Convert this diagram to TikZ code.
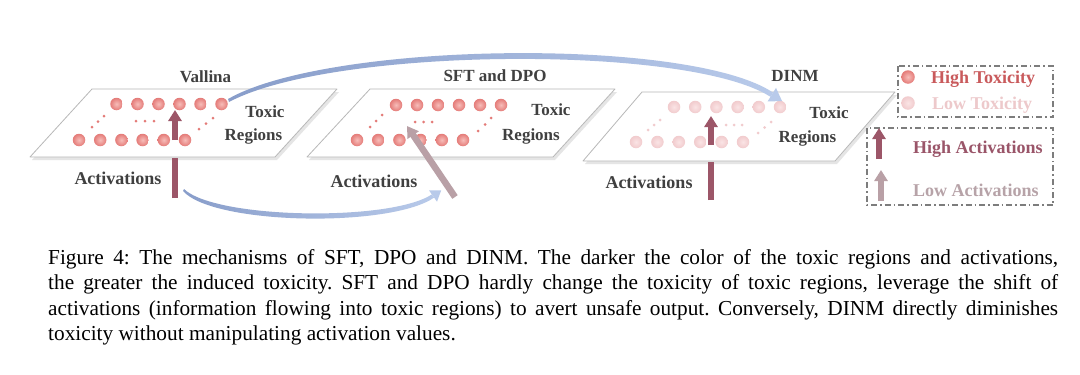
\documentclass[tikz,border=0pt]{standalone}
\usepackage{fontspec}
\setmainfont{Liberation Serif}
\usetikzlibrary{arrows.meta}
\definecolor{lab}{HTML}{404040}
\definecolor{dotin}{HTML}{F7BDB9}
\definecolor{dotout}{HTML}{E47B78}
\definecolor{ltin}{HTML}{FAE4E5}
\definecolor{ltout}{HTML}{F1CBCD}
\definecolor{hiact}{HTML}{9C5668}
\definecolor{loact}{HTML}{B9A0A6}
\definecolor{flowA}{HTML}{889DCA}
\definecolor{flowB}{HTML}{B8CAEA}
\definecolor{legbox}{HTML}{7D7D7D}
\definecolor{hitox}{HTML}{C95A5C}
\definecolor{lotox}{HTML}{EDC9CB}
\definecolor{hiacttxt}{HTML}{9A5569}
\definecolor{loacttxt}{HTML}{B7A3A8}
\begin{document}
\frenchspacing
\begin{tikzpicture}[x=1pt,y=-1pt,
  panel/.style={fill=white,draw=black!28,line width=0.8pt,line join=round},
  pshadow/.style={fill=black!10},
  dot/.style={circle,minimum size=12.5pt,inner sep=0pt,inner color=dotin,outer color=dotout},
  ldot/.style={circle,minimum size=12.5pt,inner sep=0pt,inner color=ltin,outer color=ltout},
  sdot/.style={circle,minimum size=3pt,inner sep=0pt,fill=dotout},
  lsdot/.style={circle,minimum size=3pt,inner sep=0pt,fill=ltout},
  lbl/.style={anchor=base,inner sep=0pt,text=lab,font=\fontsize{17}{20}\selectfont\bfseries},
  actlbl/.style={anchor=base,inner sep=0pt,text=lab,font=\fontsize{18}{21}\selectfont\bfseries},
  legtxt/.style={anchor=base west,inner sep=0pt,font=\fontsize{18}{21}\selectfont\bfseries},
  hishaft/.style={draw=hiact,line width=6.5pt},
  hiarrow/.style={draw=hiact,line width=6.5pt,-{Triangle[width=13pt,length=11pt]}},
  loarrow/.style={draw=loact,line width=6.5pt,-{Triangle[width=13pt,length=11pt]}},
  legframe/.style={draw=legbox,line width=1.1pt,dash pattern=on 6pt off 3pt on 1.5pt off 3pt},
  captxt/.style={anchor=base west,inner sep=0pt,font=\fontsize{21.3}{25.5}\selectfont}
]
\useasboundingbox (0,0) rectangle (1080,375);
\fill[white] (0,0) rectangle (1080,375);

% ---------- panels ----------
\fill[pshadow] (94,92) -- (339,92) -- (277,160) -- (32,160) -- cycle;
\draw[panel] (92,89) -- (337,89) -- (275,157) -- (30,157) -- cycle;
\fill[pshadow] (372,92) -- (617,92) -- (555,160) -- (309,160) -- cycle;
\draw[panel] (370,89) -- (615,89) -- (553,157) -- (307,157) -- cycle;
\fill[pshadow] (644,95) -- (897,95) -- (837,164) -- (585,164) -- cycle;
\draw[panel] (642,92) -- (895,92) -- (835,161) -- (583,161) -- cycle;

% ---------- activation shafts below the planes ----------
\coordinate (a1b) at (175,198); \coordinate (a1m) at (175,158);
\draw[hishaft] (a1b) -- (a1m);
\coordinate (a3b) at (711,200); \coordinate (a3m) at (711,162);
\draw[hishaft] (a3b) -- (a3m);

% ---------- panel 1 dots ----------
\foreach \i in {1,...,6} \node[dot] (at\i) at ({116.5+21*(\i-1)},104) {};
\foreach \i in {1,...,6} \node[dot] (ab\i) at ({79+21.2*(\i-1)},140) {};
\foreach \i/\x/\y in {1/92/127,2/98/121.5,3/104/116,4/136/121,5/145/121,6/154/121,7/199/129,8/206/123.5,9/213/118}
  \node[sdot] (as\i) at (\x,\y) {};
% ---------- panel 2 dots ----------
\foreach \i in {1,...,6} \node[dot] (bt\i) at ({396+21*(\i-1)},105) {};
\foreach \i in {1,...,6} \node[dot] (bb\i) at ({357+21.2*(\i-1)},140) {};
\foreach \i/\x/\y in {1/370/127,2/376/121,3/382/115,4/415/122,5/423.5/122,6/432/122,7/478/131,8/485/124.5,9/491/118}
  \node[sdot] (bs\i) at (\x,\y) {};
% ---------- panel 3 dots ----------
\foreach \i in {1,...,6} \node[ldot] (ct\i) at ({674+21.2*(\i-1)},107) {};
\foreach \i in {1,...,6} \node[ldot] (cb\i) at ({636+21.4*(\i-1)},142) {};
\foreach \i/\x/\y in {1/648/130,2/654/125,3/660/120,4/726/125,5/734/125,6/742/125,7/758/133,8/764.5/127.5,9/771/122}
  \node[lsdot] (cs\i) at (\x,\y) {};

% ---------- activation arrows on the planes ----------
\coordinate (a1s) at (175,140); \coordinate (a1t) at (175,110);
\draw[hiarrow] (a1s) -- (a1t);
\coordinate (a2s) at (455,197); \coordinate (a2t) at (407,126);
\draw[loarrow] (a2s) -- (a2t);
\coordinate (a3s) at (711,145); \coordinate (a3t) at (711,116);
\draw[hiarrow] (a3s) -- (a3t);

% ---------- labels ----------
\node[lbl] (t1) at (205.5,82.5) {Vallina};
\node[lbl] (t2) at (495,81.5) {SFT and DPO};
\node[lbl] (t3) at (795,81.5) {DINM};
\node[lbl] (x1) at (265,117.5) {Toxic};
\node[lbl] (r1) at (253.5,140.5) {Regions};
\node[lbl] (x2) at (551,115.5) {Toxic};
\node[lbl] (r2) at (531,140.5) {Regions};
\node[lbl] (x3) at (829,118.5) {Toxic};
\node[lbl] (r3) at (807.5,142.5) {Regions};
\node[actlbl] (v1) at (118,184) {Activations};
\node[actlbl] (v2) at (374,187) {Activations};
\node[actlbl] (v3) at (649,188) {Activations};

% ---------- flows ----------
\coordinate (f1s) at (228,100); \coordinate (f1e) at (782,101);
\shade[left color=flowA,right color=flowB]
  (228,99) .. controls (330,41) and (690,37) .. (773.1,92.6)
  -- (770.5,96.8) .. controls (688,44) and (332,47) .. (229,102) -- cycle;
\fill[flowB] (767.6,101.5) -- (776.0,87.9) -- (f1e) -- cycle;

\coordinate (f2s) at (184,189); \coordinate (f2e) at (441.2,190.3);
\shade[left color=flowA,right color=flowB]
  (184,189) .. controls (215,219) and (390,222) .. (431.9,194.4)
  -- (434.1,197.6) .. controls (390,228) and (213,225) .. (183,191) -- cycle;
\fill[flowB] (437,201.7) -- (429,190.3) -- (f2e) -- cycle;

% ---------- legend ----------
\draw[legframe] (898,66) rectangle (1053,117);
\draw[legframe] (867,128) rectangle (1053,205);
\node[dot,minimum size=13.5pt] (lg1) at (908,77) {};
\node[ldot,minimum size=13.5pt] (lg2) at (908,103) {};
\node[legtxt,text=hitox] (lt1) at (931,83) {High Toxicity};
\node[legtxt,text=lotox] (lt2) at (932,109) {Low Toxicity};
\coordinate (la1s) at (879,159); \coordinate (la1t) at (879,128);
\draw[hiarrow] (la1s) -- (la1t);
\coordinate (la2s) at (881,201); \coordinate (la2t) at (881,170);
\draw[loarrow] (la2s) -- (la2t);
\node[legtxt,text=hiacttxt] (lt3) at (913,153) {High Activations};
\node[legtxt,text=loacttxt] (lt4) at (913,196) {Low Activations};

% ---------- caption ----------
\node[captxt] (cap1) at (48,264) {\makebox[1010pt][s]{Figure 4: The mechanisms of SFT, DPO and DINM. The darker the color of the toxic regions and activations,}};
\node[captxt] (cap2) at (48,289.5) {\makebox[1010pt][s]{the greater the induced toxicity. SFT and DPO hardly change the toxicity of toxic regions, leverage the shift of}};
\node[captxt] (cap3) at (48,315) {\makebox[1010pt][s]{activations (information flowing into toxic regions) to avert unsafe output. Conversely, DINM directly diminishes}};
\node[captxt] (cap4) at (48,340.5) {toxicity without manipulating activation values.};
\end{tikzpicture}
\end{document}
